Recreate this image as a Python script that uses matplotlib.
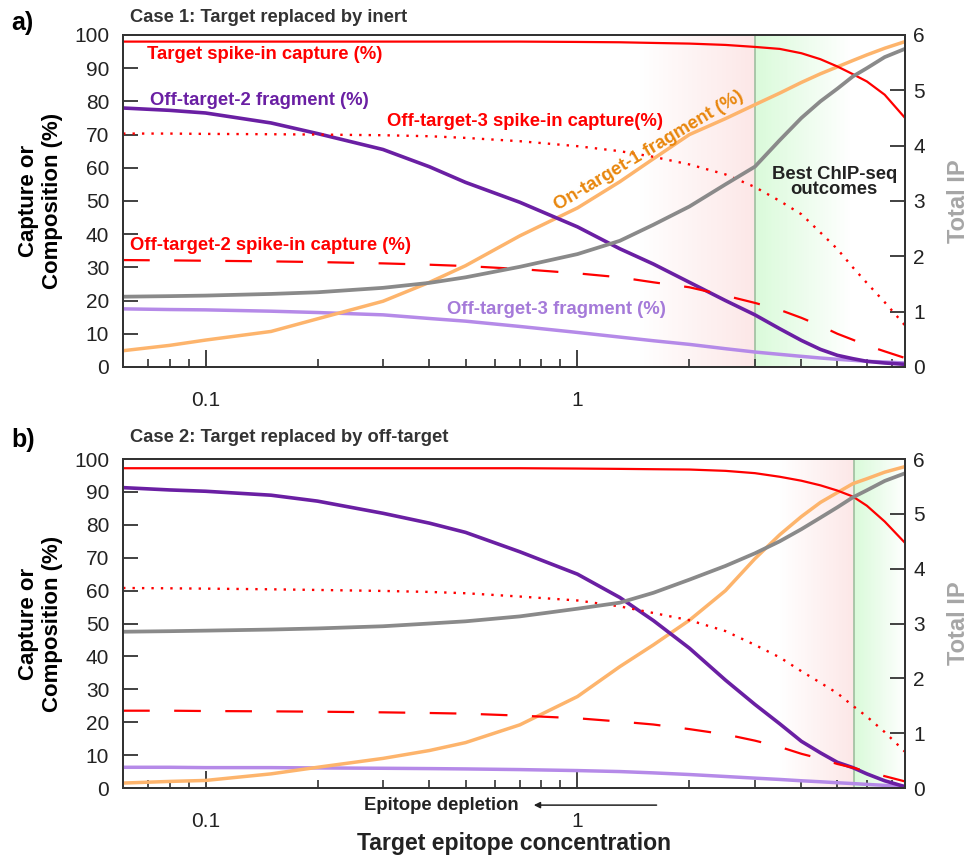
import matplotlib
matplotlib.use("Agg")
import matplotlib.pyplot as plt
import numpy as np

plt.rcParams.update({
    "font.family": ["Liberation Sans", "DejaVu Sans"],
    "axes.edgecolor": "#333333",
    "axes.linewidth": 1.4,
})

# --- DATA ---
conc = [0.06, 0.08, 0.1, 0.15, 0.2, 0.3, 0.4, 0.5, 0.7, 1, 1.3, 1.6, 2, 2.5,
        3, 3.5, 4, 4.5, 5, 5.5, 6, 6.7, 7.6]

# Case 1: target replaced by inert
target_a    = [98, 98, 98, 98, 98, 98, 98, 98, 98, 97.9, 97.8, 97.6, 97.4, 97,
               96.4, 95.8, 94.5, 92.7, 90.5, 88.2, 86, 82, 75]
off3_spk_a  = [70.3, 70.3, 70.2, 70.1, 70, 69.8, 69.5, 69, 68, 66.5, 65, 63.3, 61, 58,
               54.2, 50, 46, 40.5, 35.5, 30, 25.3, 19.5, 12.5]
off2_spk_a  = [32.2, 32.1, 32, 31.8, 31.6, 31.2, 30.8, 30.4, 29.5, 28.2, 27, 25.5, 24, 21.5,
               19.3, 17.2, 14.8, 12.4, 10, 8.2, 6.5, 4.7, 2.7]
off2_frag_a = [78, 77.3, 76.5, 73.5, 70.3, 65.5, 60.3, 55.6, 49.6, 42.2, 35.6, 31, 25.5, 20,
               15.7, 11.5, 8, 5.3, 3.5, 2.5, 1.7, 1.2, 0.8]
off3_frag_a = [17.5, 17.3, 17.2, 16.8, 16.4, 15.7, 14.6, 13.8, 12.2, 10.4, 9, 7.9, 6.8, 5.5,
               4.5, 3.8, 3.2, 2.7, 2.3, 2.0, 1.7, 1.5, 1.2]
on1_frag_a  = [4.9, 6.5, 8.1, 10.7, 14.5, 19.8, 25.5, 30.5, 39.5, 47.9, 55.8, 62.7, 70, 74.8,
               79, 82.5, 85.7, 88.3, 90.4, 92.3, 94, 96, 98]
total_ip_a  = [1.27, 1.28, 1.29, 1.32, 1.35, 1.43, 1.52, 1.62, 1.81, 2.04, 2.28, 2.57, 2.9, 3.3,
               3.62, 4.1, 4.5, 4.8, 5.03, 5.25, 5.4, 5.6, 5.75]

# Case 2: target replaced by off-target
target_b    = [97.2, 97.2, 97.2, 97.2, 97.2, 97.2, 97.2, 97.2, 97.2, 97.1, 97, 96.9, 96.8, 96.4,
               95.7, 94.6, 93.4, 92, 90.4, 88.6, 85.8, 81, 74.5]
off3_spk_b  = [60.8, 60.7, 60.6, 60.4, 60.2, 59.9, 59.6, 59.2, 58.2, 57, 55.2, 53.2, 51, 47.7,
               43.5, 39.7, 35.5, 32, 28.8, 25, 21.7, 17, 11]
off2_spk_b  = [23.5, 23.5, 23.4, 23.3, 23.2, 23, 22.8, 22.6, 22, 21.2, 20.2, 19.3, 17.9, 16.3,
               14.4, 12.5, 10.4, 8.9, 7.3, 6.2, 5, 3.6, 2]
off2_frag_b = [91.3, 90.6, 90.2, 89, 87.2, 83.5, 80.5, 77.7, 71.8, 65, 57.9, 50.9, 42.5, 32.8,
               25.4, 19.5, 14.2, 10.7, 7.8, 6.2, 4.3, 2.2, 0.4]
off3_frag_b = [6.3, 6.3, 6.2, 6.2, 6.1, 6, 5.9, 5.8, 5.6, 5.3, 5, 4.6, 4.1, 3.5,
               3, 2.6, 2.2, 1.9, 1.6, 1.35, 1.1, 0.8, 0.5]
on1_frag_b  = [1.5, 2, 2.3, 4.3, 6.3, 9, 11.4, 13.8, 19.2, 27.8, 36.9, 43.5, 51, 60,
               69.7, 77, 82.5, 86.8, 89.8, 92.5, 94, 96, 97.7]
total_ip_b  = [2.85, 2.86, 2.87, 2.89, 2.91, 2.95, 3.0, 3.04, 3.13, 3.27, 3.38, 3.56, 3.8, 4.05,
               4.28, 4.5, 4.72, 4.93, 5.12, 5.3, 5.43, 5.6, 5.74]

# region limits (pink fade start, best-outcome boundary)
pink_start = [1.47, 3.5]
best_start = [3.0, 5.55]

RED = "#ff0000"
PURPLE = "#6a1fa3"
LPURPLE = "#b58ae8"
ORANGE = "#fdb46c"
ORANGE_TXT = "#e8860c"
GRAY = "#8a8a8a"

XMIN, XMAX = 0.06, 7.6

fig = plt.figure(figsize=(9.69, 8.57), dpi=100)
ax_a = fig.add_axes([0.127, 0.5718, 0.807, 0.3874])
ax_b = fig.add_axes([0.127, 0.0805, 0.807, 0.3839])


def shade(ax, x0, xb, xe):
    # pink fade-in up to the boundary, green fade-out after it
    n = 60
    edges = np.logspace(np.log10(x0), np.log10(xb), n + 1)
    for i in range(n):
        ax.axvspan(edges[i], edges[i + 1], color=(0.99, 0.89, 0.89),
                   alpha=(i + 1) / n * 0.85, lw=0, zorder=0)
    g_end = min(xb * 1.8, XMAX)
    edges = np.logspace(np.log10(xb), np.log10(g_end), n + 1)
    for i in range(n):
        ax.axvspan(edges[i], edges[i + 1], color=(0.84, 0.98, 0.84),
                   alpha=(1 - i / n) * 0.9, lw=0, zorder=0)
    ax.axvline(xb, color="#9fbf9f", lw=1.2, zorder=1)


def draw_panel(ax, target, off3s, off2s, off2f, off3f, on1f, tip, k):
    shade(ax, pink_start[k], best_start[k], XMAX)
    ax.plot(conc, off3f, color=LPURPLE, lw=2.5, zorder=3)
    ax.plot(conc, on1f, color=ORANGE, lw=2.5, zorder=3)
    ax.plot(conc, off2f, color=PURPLE, lw=2.6, zorder=3)
    ax.plot(conc, off2s, color=RED, lw=1.6, dashes=(12, 11), zorder=3)
    ax.plot(conc, off3s, color=RED, lw=1.7, ls=(0, (1, 3.0)), zorder=3)
    ax.plot(conc, target, color=RED, lw=1.6, zorder=3)

    ax.set_xscale("log")
    ax.set_xlim(XMIN, XMAX)
    ax.set_ylim(0, 100)
    ax.set_yticks(range(0, 101, 10))
    ax.set_xticks([0.1, 1])
    ax.set_xticklabels(["0.1", "1"])
    ax.tick_params(axis="y", direction="in", length=11, width=1.3,
                   labelsize=15, pad=10, colors="#333333", labelcolor="#222222")
    ax.tick_params(axis="x", which="major", direction="in", length=12, width=1.3,
                   labelsize=15, pad=17, colors="#333333", labelcolor="#222222")
    ax.tick_params(axis="x", which="minor", direction="in", length=6, width=1.2,
                   colors="#333333")
    ax.set_ylabel("Capture or\nComposition (%)", fontsize=16, fontweight="bold",
                  labelpad=8)

    ax2 = ax.twinx()
    ax2.plot(conc, tip, color=GRAY, lw=2.7, zorder=2)
    ax2.set_ylim(0, 6)
    ax2.set_xlim(XMIN, XMAX)
    ax2.tick_params(axis="y", direction="in", length=11, width=1.3,
                    labelsize=15, pad=6, colors="#333333", labelcolor="#222222")
    ax2.set_ylabel("Total IP", fontsize=17, fontweight="bold", color="#a6a6a6",
                   labelpad=16)
    return ax2


draw_panel(ax_a, target_a, off3_spk_a, off2_spk_a, off2_frag_a, off3_frag_a,
           on1_frag_a, total_ip_a, 0)
draw_panel(ax_b, target_b, off3_spk_b, off2_spk_b, off2_frag_b, off3_frag_b,
           on1_frag_b, total_ip_b, 1)

# --- labels panel a ---
lab = dict(fontsize=13.3, fontweight="bold", va="center", ha="left", zorder=5)
ax_a.text(0.0694, 94, "Target spike-in capture (%)", color=RED, **lab)
ax_a.text(0.0707, 80.4, "Off-target-2 fragment (%)", color=PURPLE, **lab)
ax_a.text(0.307, 73.8, "Off-target-3 spike-in capture(%)", color=RED, **lab)
ax_a.text(0.0625, 36.7, "Off-target-2 spike-in capture (%)", color=RED, **lab)
ax_a.text(0.447, 17.2, "Off-target-3 fragment (%)", color="#a57ad9", **lab)
ax_a.text(1.56, 65.0, "On-target-1 fragment (%)", color=ORANGE_TXT, fontsize=13.3,
          fontweight="bold", rotation=31, ha="center", va="center", zorder=5)
ax_a.text(4.9, 55.7, "Best ChIP-seq\noutcomes", color="#222222", fontsize=13.3,
          fontweight="bold", ha="center", va="center", linespacing=0.9, zorder=5)

# --- labels panel b ---
ax_b.text(0.267, -0.052, "Epitope depletion", transform=ax_b.get_xaxis_transform(),
          fontsize=13.3, fontweight="bold", color="#222222", ha="left", va="center",
          family=["Liberation Sans Narrow", "Liberation Sans"], clip_on=False)
ax_b.annotate("", xy=(0.75, -0.052), xytext=(1.66, -0.052),
              xycoords=ax_b.get_xaxis_transform(),
              textcoords=ax_b.get_xaxis_transform(),
              arrowprops=dict(arrowstyle="-|>", color="#222222", lw=1.1,
                              mutation_scale=9), annotation_clip=False)

fig.text(0.530, 0.0163, "Target epitope concentration", fontsize=16.6,
         fontweight="bold", color="#222222", ha="center", va="center")

fig.text(0.012, 0.973, "a)", fontsize=18, fontweight="bold", va="center")
fig.text(0.012, 0.487, "b)", fontsize=18, fontweight="bold", va="center")
fig.text(0.134, 0.980, "Case 1: Target replaced by inert", fontsize=13.2,
         fontweight="bold", color="#333333", va="center")
fig.text(0.134, 0.490, "Case 2: Target replaced by off-target", fontsize=13.2,
         fontweight="bold", color="#333333", va="center",
         family=["Liberation Sans Narrow", "Liberation Sans"])

fig.savefig("out.png", dpi=100, facecolor="white")
